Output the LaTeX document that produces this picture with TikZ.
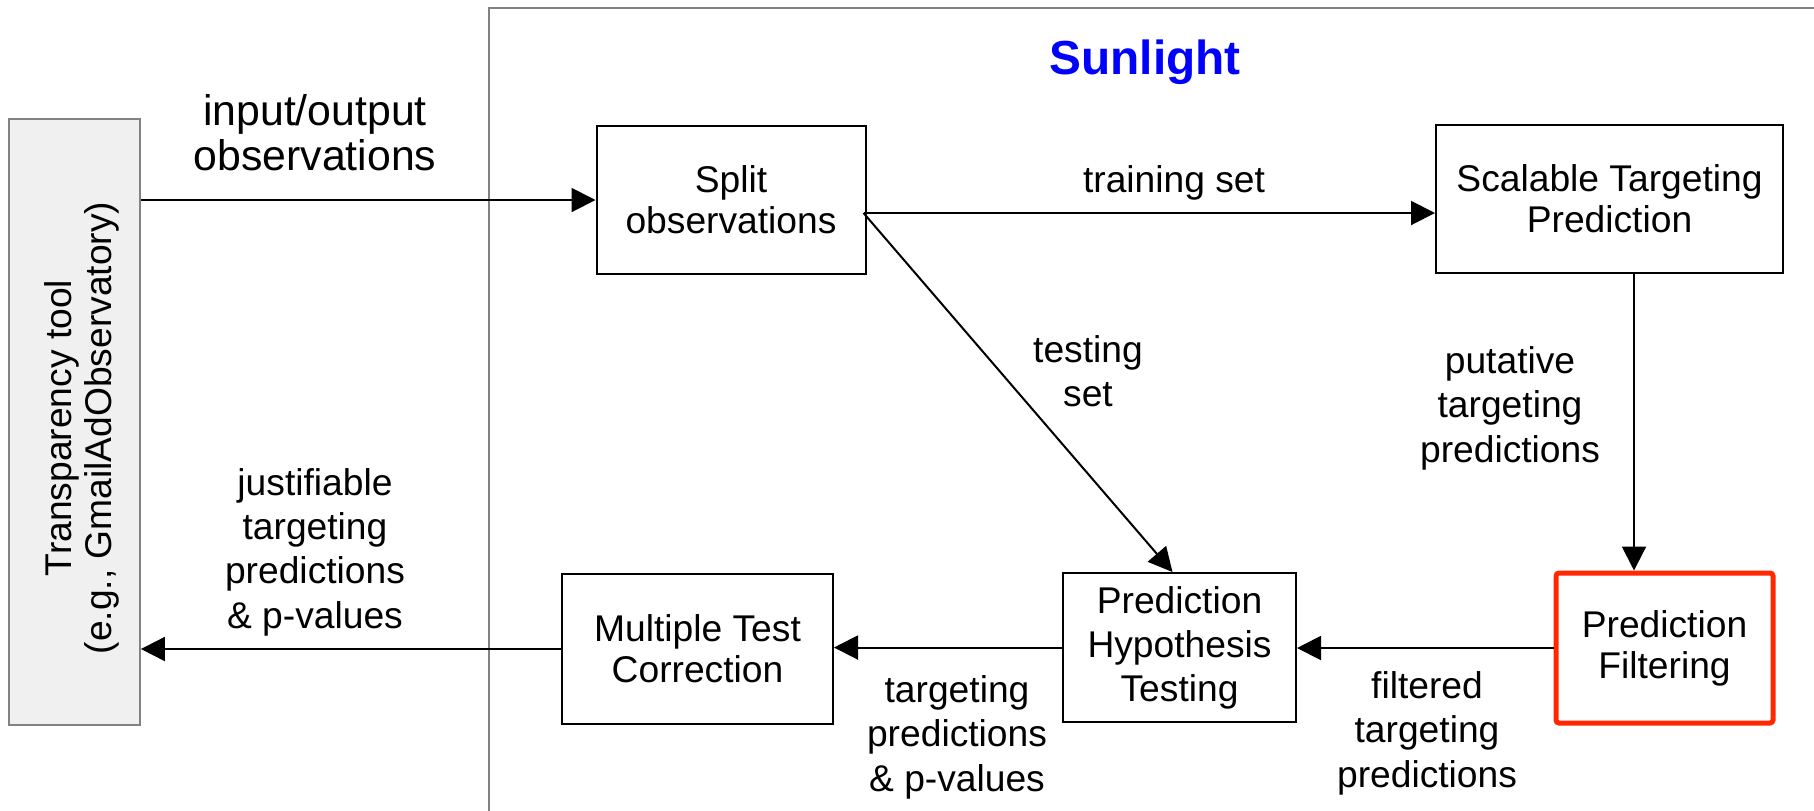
\documentclass[tikz,border=0pt]{standalone}
\usepackage{fontspec}
\setmainfont{Liberation Sans}
\usetikzlibrary{arrows.meta,calc}
\definecolor{framegray}{RGB}{130,130,130}
\definecolor{toolfill}{RGB}{240,240,240}
\definecolor{filtred}{RGB}{255,40,0}
\begin{document}
\begin{tikzpicture}[x=0.5pt,y=-0.5pt,
  proc/.style={draw=black,line width=1pt,inner sep=0pt,align=center,font=\fontsize{18.6}{20.5}\selectfont},
  lbl/.style={inner sep=0pt,align=center,font=\fontsize{18.6}{22.2}\selectfont},
  conn/.style={line width=1pt,-{Triangle[length=12pt,width=12pt]}},
]
\useasboundingbox (0,0) rectangle (1814,810);
\begin{scope}
  \clip (0,0) rectangle (1814,810);
  \draw[framegray,line width=0.9pt] (489,8) rectangle (1860,860);
\end{scope}

\node[font=\fontsize{23.9}{26}\selectfont\bfseries,text=blue,inner sep=0pt] (title) at (1145,62) {Sunlight};

\node[draw=framegray,fill=toolfill,line width=0.9pt,minimum width=65.5pt,minimum height=303pt,inner sep=0pt] (tool) at (74.5,422) {};
\node[lbl,rotate=90,font=\fontsize{18.6}{20.25}\selectfont] (tooltext) at (82,428) {Transparency tool\\(e.g., GmailAdObservatory)};

\node[proc,minimum width=134.5pt,minimum height=74pt] (split) at (731,200) {Split\\observations};
\node[proc,minimum width=173.5pt,minimum height=74pt] (scal) at (1609.5,199) {Scalable Targeting\\Prediction};
\node[proc,draw=filtred,line width=2.5pt,rounded corners=1.5pt,minimum width=108.5pt,minimum height=75pt] (filt) at (1664.5,648) {Prediction\\Filtering};
\node[proc,minimum width=116.5pt,minimum height=74.5pt,font=\fontsize{18.6}{22}\selectfont] (hyp) at (1179.5,647.5) {Prediction\\Hypothesis\\Testing};
\node[proc,minimum width=135.5pt,minimum height=75pt] (mtc) at (697.5,649) {Multiple Test\\Correction};

\draw[conn] (tool.east |- split.west) -- (split.west);
\coordinate (so) at ($(split.east)+(-3,13)$);
\draw[conn] (so) -- (so -| scal.west);
\draw[conn] (so) -- ($(hyp.north)+(-7,0)$);
\coordinate (pt) at ($(scal.south)+(24.5,0)$);
\draw[conn] (pt) -- (pt |- filt.north);
\draw[conn] (filt.west) -- (filt.west -| hyp.east);
\draw[conn] (hyp.west) -- (hyp.west -| mtc.east);
\draw[conn] (mtc.west) -- (mtc.west -| tool.east);

\node[lbl,font=\fontsize{21.4}{22.6}\selectfont] (lio) at (315,133) {input/output\\observations};
\node[lbl] (ltrain) at (1174,183) {training set};
\node[lbl] (ltest) at (1088,371) {testing\\set};
\node[lbl] (lput) at (1510,408) {putative\\targeting\\predictions};
\node[lbl] (lfilt) at (1427,733) {filtered\\targeting\\predictions};
\node[lbl] (ltp) at (957,737) {targeting\\predictions\\\& p-values};
\node[lbl] (ljust) at (315,552) {justifiable\\targeting\\predictions\\\& p-values};
\end{tikzpicture}
\end{document}
